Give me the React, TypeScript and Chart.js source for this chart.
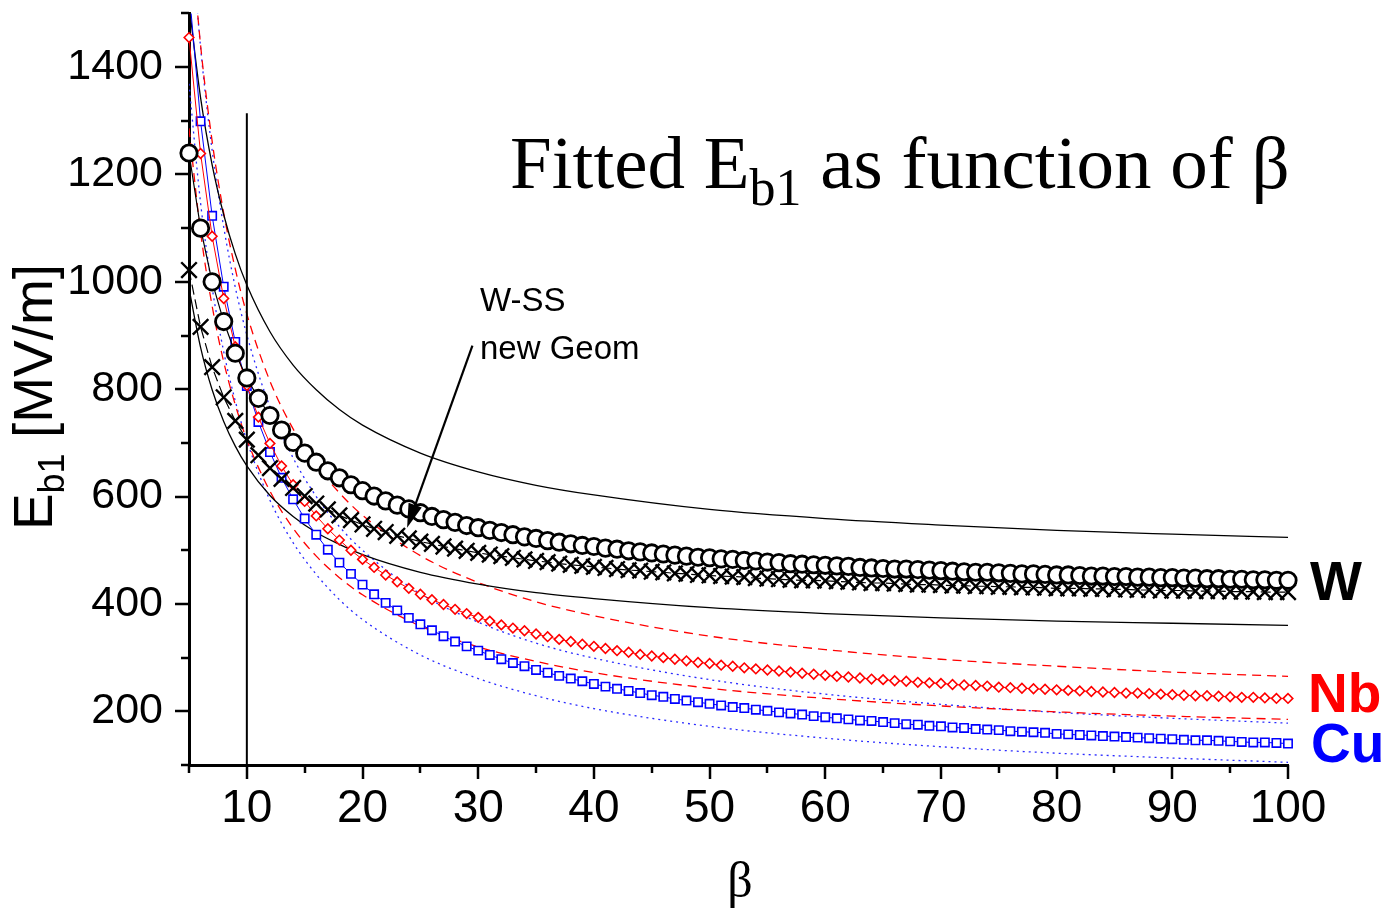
import React, { useEffect, useRef } from 'react';
import { Chart, registerables } from 'chart.js';

Chart.register(...registerables);

// β values of the computed points
const BETA = [
  5, 6, 7, 8, 9, 10, 11, 12, 13, 14,
  15, 16, 17, 18, 19, 20, 21, 22, 23, 24,
  25, 26, 27, 28, 29, 30, 31, 32, 33, 34,
  35, 36, 37, 38, 39, 40, 41, 42, 43, 44,
  45, 46, 47, 48, 49, 50, 51, 52, 53, 54,
  55, 56, 57, 58, 59, 60, 61, 62, 63, 64,
  65, 66, 67, 68, 69, 70, 71, 72, 73, 74,
  75, 76, 77, 78, 79, 80, 81, 82, 83, 84,
  85, 86, 87, 88, 89, 90, 91, 92, 93, 94,
  95, 96, 97, 98, 99, 100,
];

// W (open circles)
const W_CIRCLES = [
  1240, 1100, 1000, 926, 867, 821, 783, 751, 724, 701,
  681, 664, 648, 635, 622, 611, 601, 592, 584, 577,
  570, 563, 557, 552, 546, 542, 537, 533, 529, 525,
  522, 518, 515, 512, 509, 507, 504, 502, 499, 497,
  495, 493, 491, 489, 487, 486, 484, 483, 481, 480,
  478, 477, 475, 474, 473, 472, 471, 470, 468, 467,
  466, 465, 465, 464, 463, 462, 461, 460, 459, 459,
  458, 457, 456, 456, 455, 454, 454, 453, 452, 452,
  451, 451, 450, 450, 449, 449, 448, 448, 447, 447,
  446, 446, 445, 445, 444, 444,
];

// W-SS new Geom (crosses)
const WSS_CROSSES = [
  1022, 916, 841, 785, 741, 706, 677, 653, 633, 616,
  601, 587, 576, 565, 556, 548, 540, 534, 527, 522,
  516, 512, 507, 503, 499, 495, 492, 489, 486, 483,
  480, 478, 475, 473, 471, 469, 467, 465, 463, 462,
  460, 459, 457, 456, 454, 453, 452, 451, 450, 448,
  447, 446, 445, 444, 444, 443, 442, 441, 440, 439,
  439, 438, 437, 436, 436, 435, 434, 434, 433, 433,
  432, 432, 431, 431, 430, 429, 429, 429, 428, 428,
  427, 427, 426, 426, 425, 425, 425, 424, 424, 424,
  423, 423, 423, 422, 422, 422,
];

// Nb (diamonds)
const NB_DIAMONDS = [
  1455, 1239, 1085, 969, 879, 807, 748, 699, 657, 622,
  591, 564, 540, 519, 500, 483, 468, 454, 441, 429,
  418, 408, 399, 390, 382, 375, 368, 361, 355, 350,
  344, 339, 334, 330, 325, 321, 317, 313, 310, 306,
  303, 300, 297, 294, 291, 289, 286, 284, 281, 279,
  277, 275, 273, 271, 269, 267, 265, 264, 262, 260,
  259, 257, 256, 254, 253, 252, 250, 249, 248, 247,
  245, 244, 243, 242, 241, 240, 239, 238, 237, 236,
  235, 234, 234, 233, 232, 231, 230, 229, 229, 228,
  227, 226, 226, 225, 224, 224,
];

// Cu (squares)
const CU_SQUARES = [
  1546, 1299, 1123, 991, 888, 806, 739, 683, 635, 595,
  559, 529, 501, 477, 456, 436, 418, 402, 388, 374,
  362, 351, 340, 330, 321, 313, 305, 297, 290, 284,
  277, 272, 266, 261, 256, 251, 246, 242, 238, 234,
  230, 227, 223, 220, 217, 214, 211, 208, 206, 203,
  201, 198, 196, 194, 191, 189, 187, 185, 183, 182,
  180, 178, 176, 175, 173, 172, 170, 169, 167, 166,
  165, 163, 162, 161, 160, 158, 157, 156, 155, 154,
  153, 152, 151, 150, 149, 148, 147, 146, 146, 145,
  144, 143, 142, 142, 141, 140,
];

// fitted bound curves
const FIT_BETA = [5, 6, 7, 8, 9, 10, 12, 14, 16, 18, 20, 25, 30, 35, 40, 50, 60, 70, 80, 90, 100];
const W_FIT_HIGH = [1517, 1343, 1218, 1125, 1052, 994, 907, 845, 799, 762, 733, 681, 646, 621, 603, 576, 559, 547, 537, 530, 524];
const W_FIT_LOW = [988, 878, 799, 740, 694, 657, 602, 563, 533, 511, 492, 459, 437, 421, 410, 393, 382, 374, 368, 364, 360];
const NB_FIT_HIGH = [1691, 1441, 1262, 1128, 1024, 940, 815, 726, 659, 607, 565, 490, 440, 404, 378, 340, 315, 297, 284, 273, 265];
const NB_FIT_LOW = [1286, 1093, 955, 851, 771, 706, 610, 541, 489, 449, 417, 359, 320, 293, 272, 243, 224, 210, 199, 191, 185];
const CU_FIT_HIGH = [1704, 1437, 1245, 1102, 990, 901, 767, 672, 600, 544, 500, 419, 366, 327, 299, 259, 232, 213, 198, 187, 178];
const CU_FIT_LOW = [1369, 1147, 989, 870, 778, 704, 593, 514, 455, 408, 371, 305, 261, 229, 205, 172, 150, 134, 122, 113, 105];

// vertical marker at β = 10
const MARK_X = [10, 10];
const MARK_Y = [100, 1314];

// annotation arrow (data coordinates)
const ARROW_FROM = [29.5, 881];
const ARROW_TO = [23.85, 542];

const X_MIN = 5;
const X_MAX = 100;
const Y_MIN = 100;
const Y_MAX = 1500;

const SANS = '"Liberation Sans", Arial, Helvetica, sans-serif';
const SERIF = '"Liberation Serif", "Times New Roman", serif';

const pts = (xs: number[], ys: number[]) => xs.map((x, i) => ({ x, y: ys[i] }));

const decor = {
  id: 'decor',
  afterDraw(chart: any) {
    const { ctx, chartArea, scales } = chart;
    const xs = scales.x;
    const ys = scales.y;
    ctx.save();
    // tick marks
    ctx.strokeStyle = '#000';
    ctx.lineWidth = 2.5;
    xs.ticks.forEach((t: any) => {
      const px = Math.round(xs.getPixelForValue(t.value));
      const len = t.value % 10 === 0 ? 14 : 8;
      ctx.beginPath();
      ctx.moveTo(px, chartArea.bottom);
      ctx.lineTo(px, chartArea.bottom + len);
      ctx.stroke();
    });
    ys.ticks.forEach((t: any) => {
      const py = Math.round(ys.getPixelForValue(t.value));
      const len = t.value % 200 === 0 ? 14 : 8;
      ctx.beginPath();
      ctx.moveTo(chartArea.left, py);
      ctx.lineTo(chartArea.left - len, py);
      ctx.stroke();
    });

    // arrow
    const ax0 = xs.getPixelForValue(ARROW_FROM[0]);
    const ay0 = ys.getPixelForValue(ARROW_FROM[1]);
    const ax1 = xs.getPixelForValue(ARROW_TO[0]);
    const ay1 = ys.getPixelForValue(ARROW_TO[1]);
    const ang = Math.atan2(ay1 - ay0, ax1 - ax0);
    const headLen = 24;
    const headW = 7;
    const bx = ax1 - Math.cos(ang) * headLen;
    const by = ay1 - Math.sin(ang) * headLen;
    ctx.lineWidth = 2.2;
    ctx.beginPath();
    ctx.moveTo(ax0, ay0);
    ctx.lineTo(bx, by);
    ctx.stroke();
    ctx.fillStyle = '#000';
    ctx.beginPath();
    ctx.moveTo(ax1, ay1);
    ctx.lineTo(bx - Math.sin(ang) * headW, by + Math.cos(ang) * headW);
    ctx.lineTo(bx + Math.sin(ang) * headW, by - Math.cos(ang) * headW);
    ctx.closePath();
    ctx.fill();

    // annotation text
    ctx.textAlign = 'left';
    ctx.textBaseline = 'alphabetic';
    ctx.font = `33px ${SANS}`;
    ctx.fillText('W-SS', 480, 311);
    ctx.fillText('new Geom', 480, 359);

    // title
    let tx = 510;
    const tb = 188;
    ctx.font = `75px ${SERIF}`;
    ctx.fillText('Fitted E', tx, tb);
    tx += ctx.measureText('Fitted E').width;
    ctx.font = `52px ${SERIF}`;
    ctx.fillText('b1', tx, tb + 17);
    tx += ctx.measureText('b1').width;
    ctx.font = `75px ${SERIF}`;
    ctx.fillText(' as function of \u03B2', tx, tb);

    // right-hand labels
    ctx.font = `bold 55px ${SANS}`;
    ctx.fillStyle = '#000';
    ctx.fillText('W', 1310, 600);
    ctx.fillStyle = '#ff0000';
    ctx.fillText('Nb', 1308, 712);
    ctx.fillStyle = '#0000ff';
    ctx.fillText('Cu', 1311, 762);

    // x axis title
    ctx.fillStyle = '#000';
    ctx.textAlign = 'center';
    ctx.font = `50px ${SERIF}`;
    ctx.fillText('\u03B2', 740, 897);

    // y axis title (rotated)
    ctx.save();
    ctx.translate(52, 397);
    ctx.rotate(-Math.PI / 2);
    ctx.textAlign = 'left';
    ctx.font = `55px ${SANS}`;
    const wE = ctx.measureText('E').width;
    const wRest = ctx.measureText(' [MV/m]').width;
    ctx.font = `36px ${SANS}`;
    const wSub = ctx.measureText('b1').width;
    let ux = -(wE + wSub + wRest) / 2;
    ctx.font = `55px ${SANS}`;
    ctx.fillText('E', ux, 0);
    ux += wE;
    ctx.font = `36px ${SANS}`;
    ctx.fillText('b1', ux, 12);
    ux += wSub;
    ctx.font = `55px ${SANS}`;
    ctx.fillText(' [MV/m]', ux, 0);
    ctx.restore();

    ctx.restore();
  },
};

export default function App() {
  const ref = useRef<HTMLCanvasElement>(null);

  useEffect(() => {
    const canvas = ref.current;
    if (!canvas) return;
    const markerClip = { left: 12, right: 12, top: 0, bottom: 0 };
    const fitLine = (data: number[], color: string, dash: number[]) => ({
      data: pts(FIT_BETA, data),
      borderColor: color,
      borderWidth: 1.3,
      borderDash: dash,
      pointRadius: 0,
      fill: false,
      cubicInterpolationMode: 'monotone',
    });

    const chart = new Chart(canvas, {
      type: 'line',
      data: {
        datasets: [
          {
            label: 'W',
            data: pts(BETA, W_CIRCLES),
            borderColor: '#000',
            borderWidth: 1.2,
            pointStyle: 'circle',
            pointRadius: 8.2,
            pointBorderWidth: 2.8,
            pointBorderColor: '#000',
            pointBackgroundColor: '#fff',
            clip: markerClip,
          },
          {
            label: 'W-SS new Geom',
            data: pts(BETA, WSS_CROSSES),
            borderColor: '#000',
            borderWidth: 1.2,
            borderDash: [10, 5],
            pointStyle: 'crossRot',
            pointRadius: 11,
            pointBorderWidth: 2.4,
            pointBorderColor: '#000',
            clip: markerClip,
          },
          {
            label: 'Nb',
            data: pts(BETA, NB_DIAMONDS),
            borderColor: '#ff0000',
            borderWidth: 1,
            pointStyle: 'rectRot',
            pointRadius: 4.8,
            pointBorderWidth: 1.6,
            pointBorderColor: '#ff0000',
            pointBackgroundColor: '#fff',
            clip: markerClip,
          },
          {
            label: 'Cu',
            data: pts(BETA, CU_SQUARES),
            borderColor: '#0000ff',
            borderWidth: 1,
            pointStyle: 'rect',
            pointRadius: 5.9,
            pointBorderWidth: 1.6,
            pointBorderColor: '#0000ff',
            pointBackgroundColor: '#fff',
            clip: markerClip,
          },
          {
            label: 'marker',
            data: pts(MARK_X, MARK_Y),
            borderColor: '#000',
            borderWidth: 2,
            pointRadius: 0,
          },
          fitLine(W_FIT_HIGH, '#000', []),
          fitLine(W_FIT_LOW, '#000', []),
          fitLine(NB_FIT_HIGH, '#ff0000', [9, 6]),
          fitLine(NB_FIT_LOW, '#ff0000', [9, 6]),
          fitLine(CU_FIT_HIGH, '#2a2aff', [2, 4]),
          fitLine(CU_FIT_LOW, '#2a2aff', [2, 4]),
        ] as any,
      },
      options: {
        animation: false,
        responsive: false,
        maintainAspectRatio: false,
        devicePixelRatio: 1,
        events: [],
        layout: { padding: { left: 0, top: 12, right: 101, bottom: 0 } },
        plugins: {
          legend: { display: false },
          tooltip: { enabled: false },
          title: { display: false },
        },
        scales: {
          x: {
            type: 'linear',
            position: 'bottom',
            min: X_MIN,
            max: X_MAX,
            grid: { display: true, drawOnChartArea: false, drawTicks: false },
            border: { display: true, color: '#000', width: 3 },
            ticks: {
              stepSize: 5,
              autoSkip: false,
              maxRotation: 0,
              minRotation: 0,
              padding: 17,
              color: '#000',
              font: { family: SANS, size: 46 },
              callback: (v: any) => (Number(v) % 10 === 0 ? String(v) : ''),
            },
            afterFit: (s: any) => {
              s.height = 147;
              s.paddingLeft = 0;
              s.paddingRight = 0;
            },
          },
          y: {
            type: 'linear',
            min: Y_MIN,
            max: Y_MAX,
            grid: { display: true, drawOnChartArea: false, drawTicks: false },
            border: { display: true, color: '#000', width: 3 },
            ticks: {
              stepSize: 100,
              autoSkip: false,
              padding: 26,
              color: '#000',
              font: { family: SANS, size: 43 },
              callback: (v: any) => {
                const n = Number(v);
                return n % 200 === 0 && n >= 200 && n <= 1400 ? String(n) : '';
              },
            },
            afterFit: (s: any) => {
              s.width = 189;
              s.paddingTop = 0;
              s.paddingBottom = 0;
            },
          },
        },
      } as any,
      plugins: [decor],
    });

    return () => chart.destroy();
  }, []);

  return (
    <div style={{ position: 'absolute', left: 0, top: 0, width: 1389, height: 912, background: '#fff' }}>
      <canvas ref={ref} width={1389} height={912} style={{ display: 'block', width: 1389, height: 912 }} />
    </div>
  );
}
